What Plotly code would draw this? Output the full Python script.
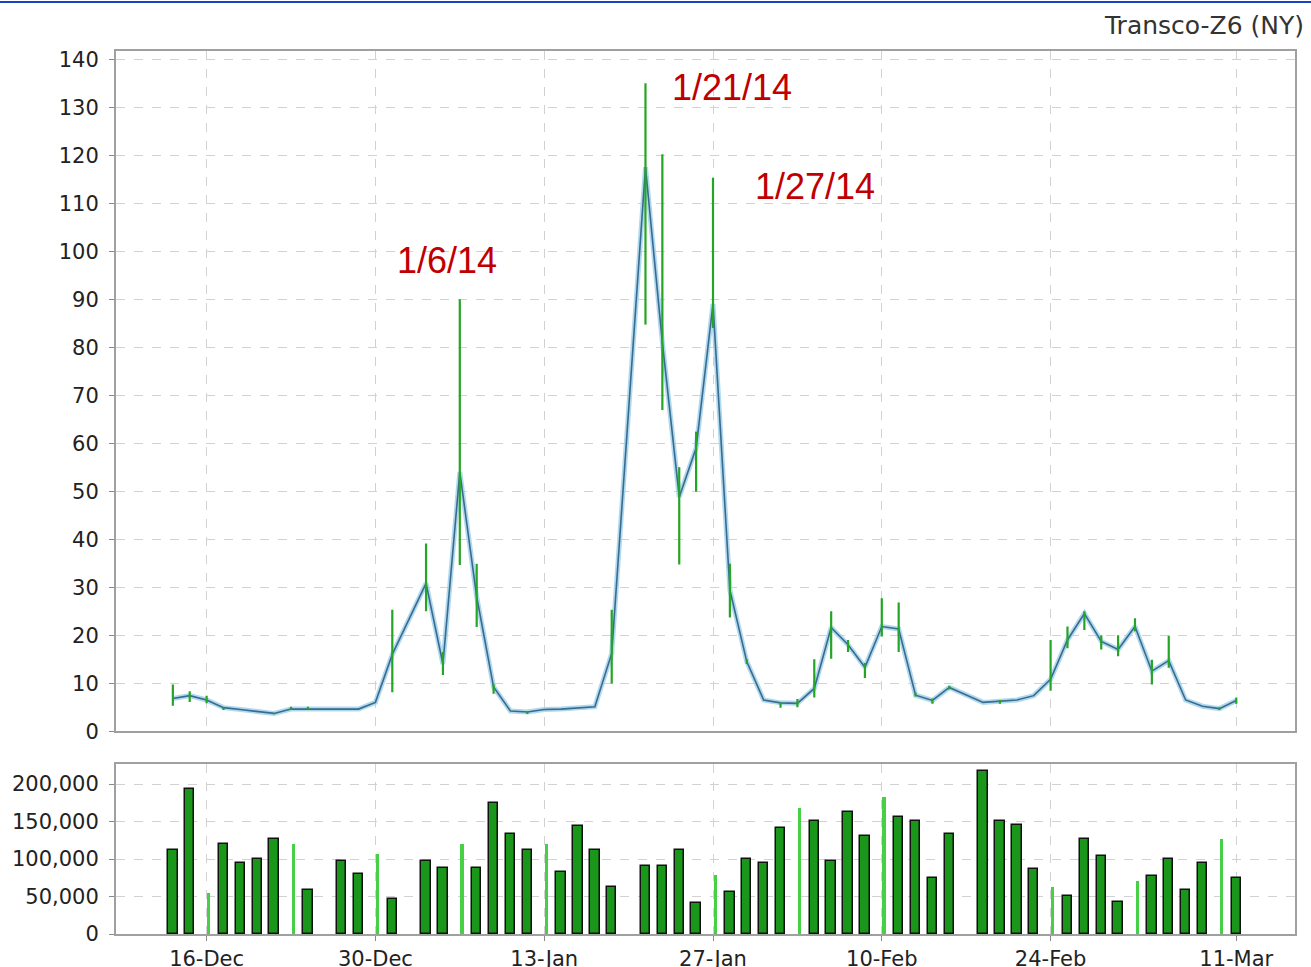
import plotly.graph_objects as go
import pandas as pd

# ---------------- data ----------------
dates = [
    "2013-12-12", "2013-12-13", "2013-12-16", "2013-12-17", "2013-12-18", "2013-12-19", "2013-12-20",
    "2013-12-23", "2013-12-24", "2013-12-26", "2013-12-27", "2013-12-30", "2013-12-31",
    "2014-01-02", "2014-01-03", "2014-01-06", "2014-01-07", "2014-01-08", "2014-01-09", "2014-01-10",
    "2014-01-13", "2014-01-14", "2014-01-15", "2014-01-16", "2014-01-17", "2014-01-21", "2014-01-22",
    "2014-01-23", "2014-01-24", "2014-01-27", "2014-01-28", "2014-01-29", "2014-01-30", "2014-01-31",
    "2014-02-03", "2014-02-04", "2014-02-05", "2014-02-06", "2014-02-07", "2014-02-10", "2014-02-11",
    "2014-02-12", "2014-02-13", "2014-02-14", "2014-02-18", "2014-02-19", "2014-02-20", "2014-02-21",
    "2014-02-24", "2014-02-25", "2014-02-26", "2014-02-27", "2014-02-28",
    "2014-03-03", "2014-03-04", "2014-03-05", "2014-03-06", "2014-03-07", "2014-03-10", "2014-03-11",
]

close = [
    6.8, 7.4, 6.5, 4.9, 4.5, 4.1, 3.7, 4.6, 4.6, 4.6, 4.6, 6.0, 16.0,
    30.8, 14.0, 54.0, 28.0, 9.2, 4.2, 4.0, 4.5, 4.6, 4.8, 5.1, 16.2, 117.5, 81.0,
    48.8, 59.0, 89.0, 29.4, 14.5, 6.5, 5.9,
    5.8, 8.9, 21.6, 18.0, 13.3, 21.8, 21.3, 7.5, 6.4, 9.1, 6.0, 6.2, 6.5, 7.4,
    10.8, 19.0, 24.5, 18.7, 17.0,
    21.8, 12.5, 14.7, 6.5, 5.2, 4.7, 6.4,
]

high = [
    9.7, 8.3, 7.4, 5.0, 4.5, 4.1, 3.7, 5.1, 5.1, 4.6, 4.6, 6.0, 25.3,
    39.1, 16.5, 90.0, 34.9, 9.8, 4.2, 4.1, 4.5, 4.6, 4.8, 5.1, 25.3, 135.0, 120.2,
    55.0, 62.4, 115.3, 34.9, 15.0, 6.5, 6.0,
    6.7, 15.0, 25.0, 19.0, 14.2, 27.7, 26.8, 8.0, 6.8, 9.4, 6.0, 6.5, 6.5, 7.4,
    19.0, 21.8, 25.0, 20.0, 20.0,
    23.5, 14.9, 19.9, 6.5, 5.2, 5.0, 7.0,
]

low = [
    5.3, 6.1, 5.8, 4.4, 4.5, 4.1, 3.5, 4.5, 4.5, 4.6, 4.6, 6.0, 8.1,
    25.0, 11.7, 34.6, 21.7, 7.8, 4.2, 3.6, 4.5, 4.6, 4.8, 5.1, 9.9, 84.7, 66.9,
    34.7, 49.9, 84.0, 23.7, 14.0, 6.5, 4.9,
    5.0, 7.0, 15.1, 16.5, 11.1, 19.7, 16.5, 7.2, 5.7, 8.7, 6.0, 5.7, 6.5, 7.4,
    8.4, 17.3, 21.1, 17.0, 15.6,
    20.8, 9.7, 13.2, 6.5, 5.2, 4.4, 5.7,
]

volume = [
    112000, 194000, 54000, 120000, 94000, 100000, 126000, 120000, 59000, 97000, 80000, 106000, 47000,
    97000, 88000, 120000, 88000, 174000, 133000, 112000, 120000, 82000, 144000, 112000, 62000, 91000, 91000,
    112000, 41000, 78000, 56000, 100000, 94000, 141000,
    168000, 151000, 97000, 162000, 130000, 183000, 156000, 150000, 74000, 133000, 218000, 151000, 145000, 86000,
    62000, 50000, 127000, 104000, 42000,
    71000, 77000, 100000, 59000, 95000, 127000, 74000,
]

tick_dates = ["2013-12-16", "2013-12-30", "2014-01-13", "2014-01-27", "2014-02-10", "2014-02-24", "2014-03-11"]
tick_text = ["16-Dec", "30-Dec", "13-Jan", "27-Jan", "10-Feb", "24-Feb", "11-Mar"]

title_text = "Transco-Z6 (NY)"
notes = [("1/6/14", "2014-01-06", 98.0, -13), ("1/21/14", "2014-01-21", 134.0, 87), ("1/27/14", "2014-01-27", 113.5, 102)]

# ---------------- figure ----------------
DAY = 86400000
df = pd.DataFrame({"date": pd.to_datetime(dates), "close": close, "high": high, "low": low, "vol": volume})
mon = df[df["date"].dt.weekday == 0]
oth = df[df["date"].dt.weekday != 0]

fig = go.Figure()

# price line halo + core
fig.add_trace(go.Scatter(x=df["date"], y=df["close"], mode="lines",
                         line=dict(color="rgba(160,210,235,0.85)", width=5),
                         hoverinfo="skip", xaxis="x", yaxis="y"))
fig.add_trace(go.Scatter(x=df["date"], y=df["close"], mode="lines",
                         line=dict(color="#3b6a8e", width=1.6),
                         xaxis="x", yaxis="y"))
# high-low whiskers
fig.add_trace(go.Scatter(x=df["date"], y=df["close"], mode="markers",
                         marker=dict(size=1, color="rgba(0,0,0,0)"),
                         error_y=dict(type="data", symmetric=False,
                                      array=(df["high"] - df["close"]).tolist(),
                                      arrayminus=(df["close"] - df["low"]).tolist(),
                                      color="#24a524", thickness=2.2, width=0),
                         xaxis="x", yaxis="y"))

# volume bars
fig.add_trace(go.Bar(x=oth["date"], y=oth["vol"], width=0.56 * DAY,
                     marker=dict(color="#1a961a", line=dict(color="#111111", width=1.5)),
                     xaxis="x2", yaxis="y2"))
fig.add_trace(go.Bar(x=mon["date"], y=mon["vol"], width=0.2 * DAY, offset=0.03 * DAY,
                     marker=dict(color="#45d045", line=dict(width=0)),
                     xaxis="x2", yaxis="y2"))

for txt, d, yv, sh in notes:
    fig.add_annotation(x=d, y=yv, xref="x", yref="y", text=txt, showarrow=False,
                       xshift=sh, font=dict(family="Liberation Sans, Arial", size=36, color="#c00000"))

fig.add_annotation(x=1.0, y=1.0, xref="paper", yref="paper", xanchor="right", yanchor="bottom",
                   xshift=11, yshift=9, text=title_text, showarrow=False,
                   font=dict(family="DejaVu Sans", size=25, color="#333333"))

rng = ["2013-12-06 15:10", "2014-03-14 11:30"]
rb = [dict(bounds=["sat", "mon"])]
grid = dict(showgrid=True, gridcolor="#d2d2d2", gridwidth=1, griddash="dash")
axline = dict(showline=True, linecolor="#a0a0a0", linewidth=2, mirror=True)
tickfont = dict(family="DejaVu Sans", size=21, color="#222222")

H = 983
T, B = 51, 33
fig.update_layout(
    width=1311, height=H,
    margin=dict(l=110, r=16, t=T, b=B),
    paper_bgcolor="white", plot_bgcolor="white",
    showlegend=False, bargap=0,
    xaxis=dict(type="date", domain=[0, 1], anchor="y", range=rng, rangebreaks=rb,
               tickmode="array", tickvals=tick_dates, ticktext=tick_text, showticklabels=False,
               ticks="", zeroline=False, **grid, **axline),
    yaxis=dict(domain=[0.2297, 1], anchor="x", range=[0, 141.7], dtick=10, tick0=0,
               ticks="outside", ticklen=5, tickcolor="#888888", tickfont=tickfont,
               ticklabelstandoff=6, zeroline=False, **grid, **axline),
    xaxis2=dict(type="date", domain=[0, 1], anchor="y2", range=rng, rangebreaks=rb, matches="x",
                tickmode="array", tickvals=tick_dates, ticktext=tick_text,
                ticks="outside", ticklen=5, tickcolor="#888888", tickfont=tickfont,
                zeroline=False, **grid, **axline),
    yaxis2=dict(domain=[0, 0.1924], anchor="x2", range=[0, 226700], dtick=50000, tick0=0,
                tickformat=",d", ticks="outside", ticklen=5, tickcolor="#888888", tickfont=tickfont,
                ticklabelstandoff=6, zeroline=False, **grid, **axline),
)

# thin blue band at top of the page
ph = H - T - B
fig.add_shape(type="line", xref="paper", yref="paper", x0=-0.1, x1=1.02,
              y0=(ph + T - 1) / ph, y1=(ph + T - 1) / ph, line=dict(color="#1a44c0", width=2))

fig.write_html("out.html", config={"displayModeBar": False},
               post_script="document.body.style.margin='0';")
